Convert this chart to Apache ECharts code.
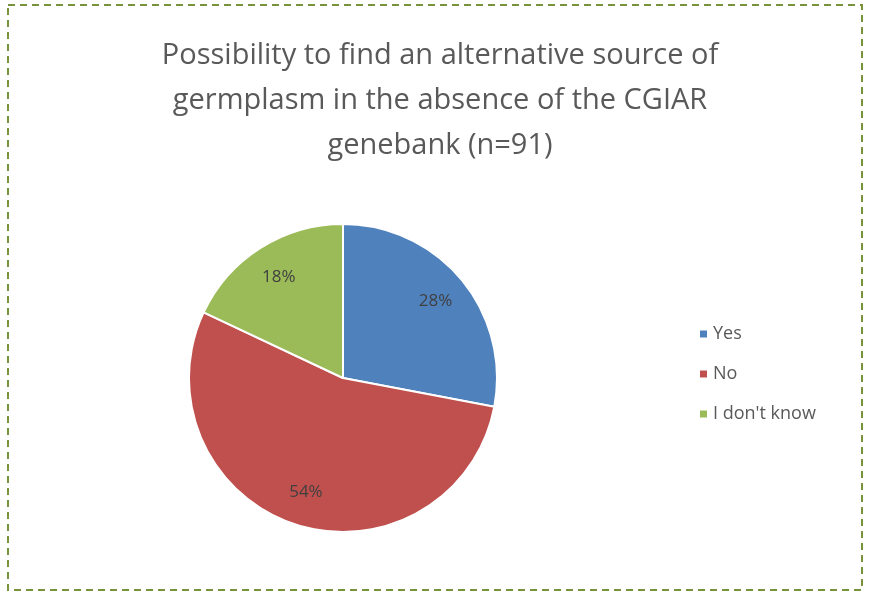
<!DOCTYPE html>
<html><head><meta charset="utf-8">
<script src="https://cdn.jsdelivr.net/npm/echarts@6/dist/echarts.min.js"></script>
<style>html,body{margin:0;padding:0;background:#fff}#c{width:869px;height:596px}</style>
</head><body><div id="c"></div>
<script>
const categories = ["Yes", "No", "I don't know"];
const values = [28, 54, 18];
const colors = ["#4F81BD", "#C0504D", "#9BBB59"];
const data = categories.map((n, i) => ({ name: n, value: values[i], itemStyle: { color: colors[i] } }));
const chart = echarts.init(document.getElementById('c'));
chart.setOption({
  animation: false,
  title: {
    text: "Possibility to find an alternative source of\ngermplasm in the absence of the CGIAR\ngenebank (n=91)",
    left: 435, top: 28, textAlign: 'center',
    textStyle: { fontFamily: 'Open Sans', fontSize: 29, fontWeight: 'normal', color: '#595959', lineHeight: 45 }
  },
  legend: {
    orient: 'vertical', left: 693, top: 320, itemGap: 22, itemWidth: 9, itemHeight: 9, icon: 'rect',
    data: categories,
    textStyle: { fontFamily: 'Open Sans', fontSize: 18, color: '#595959' }
  },
  graphic: [{ type: 'rect', shape: { x: 8, y: 5, width: 854, height: 585 },
    style: { fill: 'none', stroke: '#77933C', lineWidth: 2, lineDash: [7, 5] } }],
  series: [
    { type: 'pie', center: [343, 378], radius: [0, 154], startAngle: 90, clockwise: true,
      data: data, label: { show: false }, labelLine: { show: false },
      itemStyle: { borderColor: '#fff', borderWidth: 2 } },
    { type: 'pie', center: [343, 378], radius: [80, 154], startAngle: 90, clockwise: true, silent: true,
      data: data.map(d => ({ name: d.name, value: d.value, itemStyle: { color: 'rgba(0,0,0,0)' } })),
      legendHoverLink: false,
      label: { show: true, position: 'inside', formatter: '{c}%', fontFamily: 'Open Sans', fontSize: 17, color: '#404040' },
      labelLine: { show: false } }
  ]
});
</script></body></html>
